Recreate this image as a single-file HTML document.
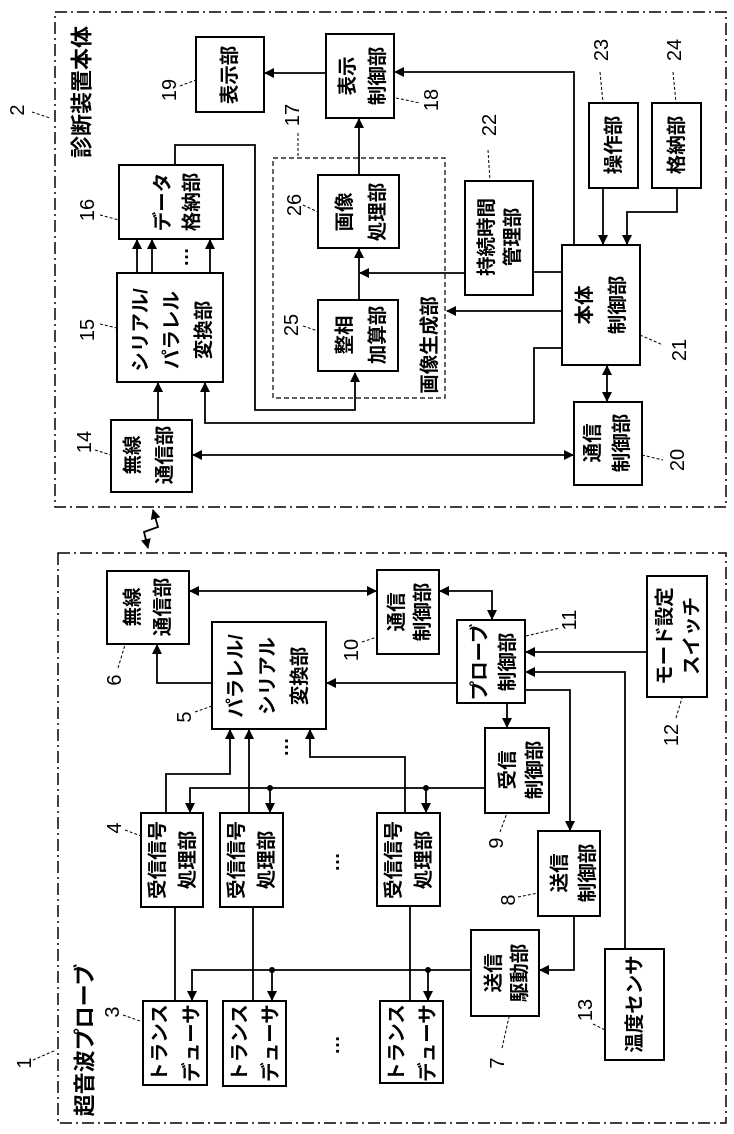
<!DOCTYPE html>
<html><head><meta charset="utf-8"><style>
html,body{margin:0;padding:0;background:#fff;}
svg{display:block;}
text{font-family:"Liberation Sans","Noto Sans CJK JP",sans-serif;fill:#000;}
.t{font-size:19.5px;font-weight:bold;text-anchor:middle;dominant-baseline:central;}
.n{font-size:20px;text-anchor:middle;dominant-baseline:central;}
.b{fill:#fff;stroke:#000;stroke-width:2;}
.l{fill:none;stroke:#000;stroke-width:1.8;}
.ld{fill:none;stroke:#000;stroke-width:1;stroke-dasharray:3,2;}
</style></head><body>
<svg width="734" height="1134" viewBox="0 0 734 1134" xmlns="http://www.w3.org/2000/svg">
<defs>
<marker id="a" viewBox="0 0 10 10" refX="9" refY="5" markerWidth="10" markerHeight="10" markerUnits="userSpaceOnUse" orient="auto-start-reverse"><path d="M0,0 L10,5 L0,10 z" fill="#000"/></marker>
</defs>
<rect x="55" y="12" width="671" height="495" fill="none" stroke="#000" stroke-width="1.5" stroke-dasharray="12,4,2,4"/>
<rect x="58" y="553" width="668" height="570" fill="none" stroke="#000" stroke-width="1.5" stroke-dasharray="12,4,2,4"/>
<rect x="273" y="158" width="172" height="240" fill="none" stroke="#000" stroke-width="1.2" stroke-dasharray="5,3"/>
<path class="l" d="M148,548 L144,532 L158,527 L153,510" marker-end="url(#a)" marker-start="url(#a)"/>

<path class="l" d="M326,73 H265" marker-end="url(#a)"/>
<path class="l" d="M574,245 V72 H395" marker-end="url(#a)"/>
<path class="l" d="M175,165 V145 H255 V410 H355 V373" marker-end="url(#a)"/>
<path class="l" d="M562,348 H534 V423 H205 V383" marker-end="url(#a)"/>
<path class="l" d="M158,420 V383" marker-end="url(#a)"/>
<path class="l" d="M137,273 V240" marker-end="url(#a)"/>
<path class="l" d="M152,273 V240" marker-end="url(#a)"/>
<path class="l" d="M210,273 V240" marker-end="url(#a)"/>
<path class="l" d="M193,455 H573" marker-end="url(#a)" marker-start="url(#a)"/>
<path class="l" d="M359,300 V249" marker-end="url(#a)"/>
<path class="l" d="M359,175 V119" marker-end="url(#a)"/>
<path class="l" d="M465,273 H360" marker-end="url(#a)"/>
<path class="l" d="M533,272 H562"/>
<path class="l" d="M562,311 H447" marker-end="url(#a)"/>
<path class="l" d="M603,188 V244" marker-end="url(#a)"/>
<path class="l" d="M677,188 V212 H627 V244" marker-end="url(#a)"/>
<path class="l" d="M607,366 V401" marker-end="url(#a)" marker-start="url(#a)"/>

<rect class="b" x="196" y="37" width="68" height="75"/>
<rect class="b" x="326" y="34" width="68" height="84"/>
<rect class="b" x="119" y="165" width="104" height="74"/>
<rect class="b" x="117" y="273" width="106" height="109"/>
<rect class="b" x="111" y="420" width="81" height="72"/>
<rect class="b" x="318" y="175" width="81" height="73"/>
<rect class="b" x="318" y="300" width="80" height="71"/>
<rect class="b" x="465" y="181" width="68" height="114"/>
<rect class="b" x="562" y="245" width="78" height="120"/>
<rect class="b" x="589" y="103" width="49" height="85"/>
<rect class="b" x="652" y="103" width="49" height="85"/>
<rect class="b" x="574" y="402" width="68" height="83"/>

<text class="t" style="font-size:22px" transform="translate(82,92) rotate(-90)">診断装置本体</text>
<text class="t" transform="translate(230,75) rotate(-90)">表示部</text>
<text class="t" transform="translate(348,76) rotate(-90)">表示</text>
<text class="t" transform="translate(378,76) rotate(-90)">制御部</text>
<text class="t" transform="translate(163,202) rotate(-90)">データ</text>
<text class="t" transform="translate(192,202) rotate(-90)">格納部</text>
<text class="t" transform="translate(141,330) rotate(-90)">シリアル/</text>
<text class="t" transform="translate(172,330) rotate(-90)">パラレル</text>
<text class="t" transform="translate(204,330) rotate(-90)">変換部</text>
<text class="t" transform="translate(182,257) rotate(-90)">…</text>
<text class="t" transform="translate(133,455) rotate(-90)">無線</text>
<text class="t" transform="translate(165,455) rotate(-90)">通信部</text>
<text class="t" transform="translate(345,212) rotate(-90)">画像</text>
<text class="t" transform="translate(378,212) rotate(-90)">処理部</text>
<text class="t" transform="translate(345,335) rotate(-90)">整相</text>
<text class="t" transform="translate(378,335) rotate(-90)">加算部</text>
<text class="t" transform="translate(430,345) rotate(-90)">画像生成部</text>
<text class="t" transform="translate(487,237) rotate(-90)">持続時間</text>
<text class="t" transform="translate(513,237) rotate(-90)">管理部</text>
<text class="t" transform="translate(585,305) rotate(-90)">本体</text>
<text class="t" transform="translate(618,305) rotate(-90)">制御部</text>
<text class="t" transform="translate(614,145) rotate(-90)">操作部</text>
<text class="t" transform="translate(677,145) rotate(-90)">格納部</text>
<text class="t" transform="translate(593,443) rotate(-90)">通信</text>
<text class="t" transform="translate(622,443) rotate(-90)">制御部</text>
<text class="n" transform="translate(18,110) rotate(-90)">2</text><path class="ld" d="M32,112 L50,118"/>
<text class="n" transform="translate(170,90) rotate(-90)">19</text><path class="ld" d="M180,86 L196,80"/>
<text class="n" transform="translate(88,210) rotate(-90)">16</text><path class="ld" d="M100,215 L119,220"/>
<text class="n" transform="translate(88,330) rotate(-90)">15</text><path class="ld" d="M100,324 L117,328"/>
<text class="n" transform="translate(85,442) rotate(-90)">14</text><path class="ld" d="M95,450 L111,455"/>
<text class="n" transform="translate(295,205) rotate(-90)">26</text><path class="ld" d="M303,205 L318,212"/>
<text class="n" transform="translate(292,325) rotate(-90)">25</text><path class="ld" d="M303,326 L318,331"/>
<text class="n" transform="translate(293,115) rotate(-90)">17</text><path class="ld" d="M298,133 V156"/>
<text class="n" transform="translate(432,100) rotate(-90)">18</text><path class="ld" d="M396,98 L420,103"/>
<text class="n" transform="translate(490,125) rotate(-90)">22</text><path class="ld" d="M488,150 L490,181"/>
<text class="n" transform="translate(602,50) rotate(-90)">23</text><path class="ld" d="M600,72 L603,103"/>
<text class="n" transform="translate(675,50) rotate(-90)">24</text><path class="ld" d="M673,72 L676,103"/>
<text class="n" transform="translate(680,350) rotate(-90)">21</text><path class="ld" d="M640,335 L663,345"/>
<text class="n" transform="translate(678,460) rotate(-90)">20</text><path class="ld" d="M642,455 L663,460"/>

<path class="l" d="M212,683 H157 V645" marker-end="url(#a)"/>
<path class="l" d="M190,591 H376" marker-end="url(#a)" marker-start="url(#a)"/>
<path class="l" d="M440,591 H492 V619" marker-end="url(#a)" marker-start="url(#a)"/>
<path class="l" d="M457,683 H327" marker-end="url(#a)"/>
<path class="l" d="M647,652 H526" marker-end="url(#a)"/>
<path class="l" d="M625,949 V672 H526" marker-end="url(#a)"/>
<path class="l" d="M507,703 V727" marker-end="url(#a)"/>
<path class="l" d="M525,690 H570 V830" marker-end="url(#a)"/>
<path class="l" d="M574,916 V970 H540" marker-end="url(#a)"/>
<path class="l" d="M471,970 H192 V1000" marker-end="url(#a)"/>
<path class="l" d="M272,970 V1000" marker-end="url(#a)"/>
<path class="l" d="M428,970 V1000" marker-end="url(#a)"/>
<circle cx="272" cy="970" r="3"/><circle cx="428" cy="970" r="3"/>
<path class="l" d="M485,788 H190 V812" marker-end="url(#a)"/>
<path class="l" d="M270,788 V812" marker-end="url(#a)"/>
<path class="l" d="M426,788 V812" marker-end="url(#a)"/>
<circle cx="270" cy="788" r="3"/><circle cx="426" cy="788" r="3"/>
<path class="l" d="M175,907 V1001"/>
<path class="l" d="M253,907 V1001"/>
<path class="l" d="M410,907 V1001"/>
<path class="l" d="M166,813 V774 H230 V730" marker-end="url(#a)"/>
<path class="l" d="M249,813 V730" marker-end="url(#a)"/>
<path class="l" d="M405,813 V757 H310 V730" marker-end="url(#a)"/>

<rect class="b" x="107" y="571" width="82" height="73"/>
<rect class="b" x="212" y="622" width="114" height="107"/>
<rect class="b" x="377" y="570" width="62" height="84"/>
<rect class="b" x="457" y="620" width="68" height="83"/>
<rect class="b" x="647" y="576" width="60" height="121"/>
<rect class="b" x="605" y="949" width="59" height="111"/>
<rect class="b" x="485" y="728" width="64" height="85"/>
<rect class="b" x="538" y="831" width="62" height="85"/>
<rect class="b" x="471" y="930" width="68" height="86"/>
<rect class="b" x="143" y="1001" width="64" height="84"/>
<rect class="b" x="223" y="1001" width="63" height="85"/>
<rect class="b" x="380" y="1001" width="63" height="82"/>
<rect class="b" x="141" y="813" width="62" height="94"/>
<rect class="b" x="220" y="813" width="63" height="94"/>
<rect class="b" x="377" y="813" width="63" height="93"/>

<text class="t" transform="translate(133,607) rotate(-90)">無線</text>
<text class="t" transform="translate(163,607) rotate(-90)">通信部</text>
<text class="t" transform="translate(236,676) rotate(-90)">パラレル/</text>
<text class="t" transform="translate(268,676) rotate(-90)">シリアル</text>
<text class="t" transform="translate(300,676) rotate(-90)">変換部</text>
<text class="t" transform="translate(397,612) rotate(-90)">通信</text>
<text class="t" transform="translate(423,612) rotate(-90)">制御部</text>
<text class="t" transform="translate(480,662) rotate(-90)">プローブ</text>
<text class="t" transform="translate(508,662) rotate(-90)">制御部</text>
<text class="t" transform="translate(665,636) rotate(-90)">モード設定</text>
<text class="t" transform="translate(692,636) rotate(-90)">スイッチ</text>
<text class="t" transform="translate(508,770) rotate(-90)">受信</text>
<text class="t" transform="translate(535,770) rotate(-90)">制御部</text>
<text class="t" transform="translate(560,873) rotate(-90)">送信</text>
<text class="t" transform="translate(588,873) rotate(-90)">制御部</text>
<text class="t" transform="translate(494,973) rotate(-90)">送信</text>
<text class="t" transform="translate(520,973) rotate(-90)">駆動部</text>
<text class="t" transform="translate(635,1004) rotate(-90)">温度センサ</text>
<text class="t" transform="translate(158,860) rotate(-90)">受信信号</text>
<text class="t" transform="translate(188,860) rotate(-90)">処理部</text>
<text class="t" transform="translate(237,860) rotate(-90)">受信信号</text>
<text class="t" transform="translate(267,860) rotate(-90)">処理部</text>
<text class="t" transform="translate(394,860) rotate(-90)">受信信号</text>
<text class="t" transform="translate(424,860) rotate(-90)">処理部</text>
<text class="t" transform="translate(160,1043) rotate(-90)">トランス</text>
<text class="t" transform="translate(192,1043) rotate(-90)">デューサ</text>
<text class="t" transform="translate(240,1043) rotate(-90)">トランス</text>
<text class="t" transform="translate(271,1043) rotate(-90)">デューサ</text>
<text class="t" transform="translate(397,1043) rotate(-90)">トランス</text>
<text class="t" transform="translate(428,1043) rotate(-90)">デューサ</text>
<text class="t" transform="translate(282,747) rotate(-90)">…</text>
<text class="t" transform="translate(333,862) rotate(-90)">…</text>
<text class="t" transform="translate(333,1045) rotate(-90)">…</text>
<text class="t" style="font-size:22px" transform="translate(85,1040) rotate(-90)">超音波プローブ</text>
<text class="n" transform="translate(25,1063) rotate(-90)">1</text><path class="ld" d="M33,1060 L56,1050"/>
<text class="n" transform="translate(115,680) rotate(-90)">6</text><path class="ld" d="M118,668 L125,645"/>
<text class="n" transform="translate(185,717) rotate(-90)">5</text><path class="ld" d="M195,712 L212,706"/>
<text class="n" transform="translate(352,650) rotate(-90)">10</text><path class="ld" d="M362,642 L377,637"/>
<text class="n" transform="translate(570,620) rotate(-90)">11</text><path class="ld" d="M526,636 L560,628"/>
<text class="n" transform="translate(672,735) rotate(-90)">12</text><path class="ld" d="M676,718 L682,698"/>
<text class="n" transform="translate(115,828) rotate(-90)">4</text><path class="ld" d="M125,830 L141,836"/>
<text class="n" transform="translate(497,843) rotate(-90)">9</text><path class="ld" d="M500,832 L507,813"/>
<text class="n" transform="translate(509,900) rotate(-90)">8</text><path class="ld" d="M518,897 L538,893"/>
<text class="n" transform="translate(113,1012) rotate(-90)">3</text><path class="ld" d="M123,1015 L143,1022"/>
<text class="n" transform="translate(498,1063) rotate(-90)">7</text><path class="ld" d="M502,1048 L509,1017"/>
<text class="n" transform="translate(586,1010) rotate(-90)">13</text><path class="ld" d="M593,1024 L605,1030"/>
</svg>
</body></html>
